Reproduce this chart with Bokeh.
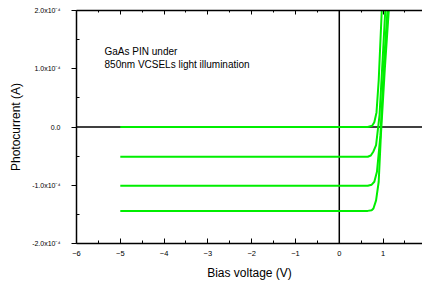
from bokeh.plotting import figure
from bokeh.models import FixedTicker, LinearAxis, Span, Label, Range1d
from bokeh.embed import file_html
from bokeh.resources import INLINE

# Data (bias voltage V, photocurrent A)
v0 = [-5, 0.65, 0.75, 0.80, 0.85, 0.90, 0.97]
i0 = [0.0, 0.0, 0.02e-4, 0.08e-4, 0.25e-4, 0.8e-4, 2.0e-4]
v1 = [-5, 0.65, 0.72, 0.78, 0.84, 0.92, 1.00, 1.05]
i1 = [-0.51e-4, -0.51e-4, -0.49e-4, -0.42e-4, -0.31e-4, 0.21e-4, 1.3e-4, 2.0e-4]
v2 = [-5, 0.65, 0.74, 0.80, 0.86, 0.94, 1.02, 1.10]
i2 = [-1.01e-4, -1.01e-4, -0.99e-4, -0.94e-4, -0.77e-4, -0.14e-4, 1.1e-4, 2.0e-4]
v3 = [-5, 0.65, 0.74, 0.78, 0.84, 0.90, 0.95, 1.04, 1.13]
i3 = [-1.44e-4, -1.44e-4, -1.43e-4, -1.40e-4, -1.26e-4, -0.94e-4, -0.14e-4, 1.0e-4, 2.0e-4]

x_ticks = [-6, -5, -4, -3, -2, -1, 0, 1]
x_minor = [-5.5, -4.5, -3.5, -2.5, -1.5, -0.5, 0.5, 1.5]
y_ticks = [-2e-4, -1e-4, 0.0, 1e-4, 2e-4]
y_minor = [-1.5e-4, -0.5e-4, 0.5e-4, 1.5e-4]
y_tick_labels = ["-2.0x10\u207b\u2074", "-1.0x10\u207b\u2074", "0.0", "1.0x10\u207b\u2074", "2.0x10\u207b\u2074"]

FONT = "Liberation Sans"
GREEN = "#00ee00"

p = figure(width=422, height=283, output_backend="svg", toolbar_location=None,
           x_range=Range1d(-6, 1.9), y_range=Range1d(-2e-4, 2e-4),
           min_border_left=76, min_border_right=0, min_border_top=10, min_border_bottom=40,
           x_axis_label="Bias voltage (V)", y_axis_label="Photocurrent (A)")
p.outline_line_color = None
p.xgrid.visible = False
p.ygrid.visible = False
p.background_fill_color = "white"
p.border_fill_color = "white"

# zero lines
p.add_layout(Span(location=0, dimension="width", line_color="black", line_width=1.5, level="underlay"))
p.add_layout(Span(location=0, dimension="height", line_color="black", line_width=1.5, level="underlay"))

for vx, iy in [(v0, i0), (v1, i1), (v2, i2), (v3, i3)]:
    p.line(vx, iy, line_color=GREEN, line_width=2)

# x axis
xa = p.xaxis[0]
xa.ticker = FixedTicker(ticks=x_ticks, minor_ticks=x_minor)
xa.major_tick_in = 5
xa.major_tick_out = 0
xa.minor_tick_in = 3
xa.minor_tick_out = 0
xa.axis_line_width = 1.5
xa.major_label_text_font = FONT
xa.major_label_text_font_size = "7.5px"
xa.major_label_text_color = "black"
xa.major_label_standoff = 7
xa.axis_label_text_font = FONT
xa.axis_label_text_font_size = "12px"
xa.axis_label_text_font_style = "normal"
xa.axis_label_text_color = "black"
xa.axis_label_standoff = 7

# y axis
ya = p.yaxis[0]
ya.ticker = FixedTicker(ticks=y_ticks, minor_ticks=y_minor)
ya.major_label_overrides = {t: s for t, s in zip(y_ticks, y_tick_labels)}
ya.major_tick_in = 0
ya.major_tick_out = 5
ya.minor_tick_in = 3
ya.minor_tick_out = 0
ya.axis_line_width = 1.5
ya.major_label_text_font = FONT
ya.major_label_text_font_size = "7px"
ya.major_label_text_color = "black"
ya.major_label_standoff = 11
ya.axis_label_text_font = FONT
ya.axis_label_text_font_size = "12px"
ya.axis_label_text_font_style = "normal"
ya.axis_label_text_color = "black"
ya.axis_label_standoff = 6

# top axis (ticks only)
ta = LinearAxis(ticker=FixedTicker(ticks=x_ticks, minor_ticks=x_minor))
ta.major_tick_in = 4
ta.major_tick_out = 0
ta.minor_tick_in = 2
ta.minor_tick_out = 0
ta.major_label_overrides = {t: "" for t in x_ticks}
ta.major_label_standoff = 0
ta.axis_line_width = 1.5
p.add_layout(ta, "above")

p.add_layout(Label(x=-5.36, y=1.29e-4, text="GaAs PIN under", text_font=FONT,
                   text_font_size="10px", text_baseline="middle", text_color="black"))
p.add_layout(Label(x=-5.36, y=1.08e-4, text="850nm VCSELs light illumination", text_font=FONT,
                   text_font_size="10px", text_baseline="middle", text_color="black"))

open("out.html", "w").write(file_html(p, INLINE))
